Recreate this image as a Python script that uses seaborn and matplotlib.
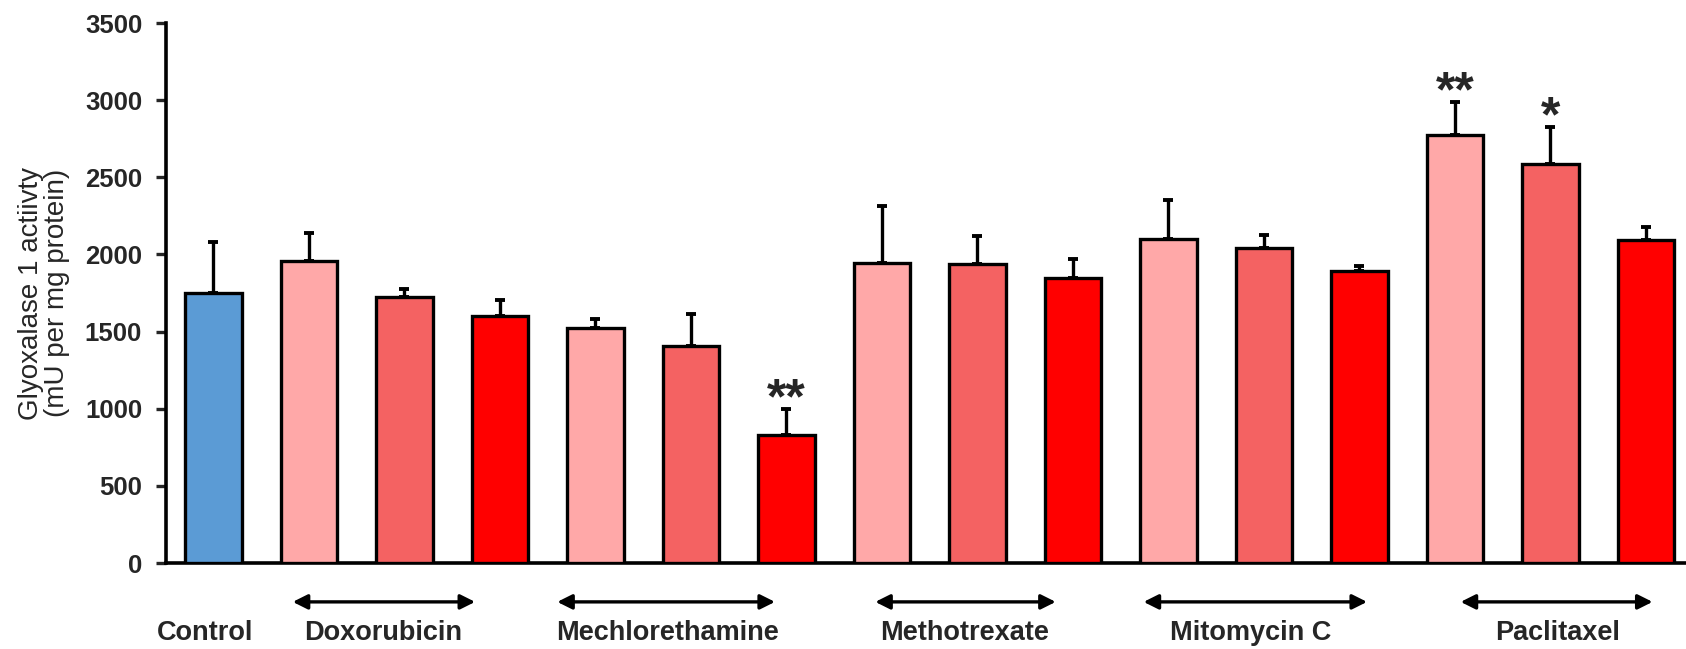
import numpy as np
import pandas as pd
import matplotlib
matplotlib.use("Agg")
import matplotlib.pyplot as plt
import seaborn as sns

# -----------------------------
# Data
# -----------------------------
bars = ["Control",
        "Dox 1", "Dox 2", "Dox 3",
        "Mech 1", "Mech 2", "Mech 3",
        "Meth 1", "Meth 2", "Meth 3",
        "Mito 1", "Mito 2", "Mito 3",
        "Pac 1", "Pac 2", "Pac 3"]
activity = [1750,
            1960, 1726, 1600,
            1521, 1405, 832,
            1943, 1936, 1845,
            2100, 2040, 1893,
            2774, 2586, 2095]
sem = [330,
       177, 50, 105,
       60, 210, 166,
       371, 186, 125,
       255, 86, 30,
       212, 238, 85]
stars = {"Mech 3": "**", "Pac 1": "**", "Pac 2": "*"}

groups = ["Control", "Doxorubicin", "Mechlorethamine", "Methotrexate",
          "Mitomycin C", "Paclitaxel"]
yticks = [0, 500, 1000, 1500, 2000, 2500, 3000, 3500]

# colours: control blue, three concentrations light -> dark red
c_ctrl = "#5B9BD5"
c_low, c_mid, c_high = "#FFA8A8", "#F46262", "#FF0000"
palette = [c_ctrl] + [c_low, c_mid, c_high] * 5

# label / arrow layout (data x coordinates)
label_x = [-0.09, 1.78, 4.75, 7.87, 10.86, 14.07]
arrow_span = [None, (0.83, 2.74), (3.6, 5.88), (6.93, 8.82),
              (9.74, 12.08), (13.06, 15.07)]

df = pd.DataFrame({"bar": bars, "activity": activity, "sem": sem})

# -----------------------------
# Plot
# -----------------------------
sns.set_style("white")
plt.rcParams["font.family"] = ["Liberation Sans", "DejaVu Sans"]

fig = plt.figure(figsize=(16.86, 6.49), dpi=100)
ax = fig.add_axes([0.0983, 0.1325, 0.9017, 0.832])

sns.barplot(data=df, x="bar", y="activity", hue="bar", palette=palette,
            order=bars, legend=False, errorbar=None, width=0.59,
            edgecolor="black", linewidth=2.4, saturation=1, ax=ax, zorder=3)

x = np.arange(len(bars))
ax.errorbar(x, df["activity"], yerr=[np.zeros(len(bars)), df["sem"]],
            fmt="none", ecolor="black", elinewidth=2.4, capsize=3.4,
            capthick=2.8, zorder=2)

for name, s in stars.items():
    i = bars.index(name)
    top = activity[i] + sem[i]
    ax.annotate(s, (i, top), xytext=(0, -3), textcoords="offset points",
                ha="center", va="baseline", fontsize=36, fontweight="bold")

ax.set_xlim(-0.5, 15.42)
ax.set_ylim(0, 3500)
ax.set_yticks(yticks)
ax.set_yticklabels([str(t) for t in yticks], fontsize=18.5, fontweight="bold")
ax.tick_params(axis="y", direction="out", length=7, width=2.4, pad=10,
               left=True)
ax.tick_params(axis="x", bottom=False, labelbottom=False)
ax.set_xlabel("")
ax.set_ylabel("Glyoxalase 1 actiivty\n(mU per mg protein)", fontsize=20,
              linespacing=1.0)
ax.yaxis.set_label_coords(-0.063, 0.5)

sns.despine(ax=ax)
for side in ["left", "bottom"]:
    ax.spines[side].set_linewidth(2.6)
    ax.spines[side].set_color("black")

# group labels and arrows under the axis
trans = ax.get_xaxis_transform()
for name, lx, span in zip(groups, label_x, arrow_span):
    ax.text(lx, -0.13, name, transform=trans, ha="center", va="center",
            fontsize=19.5, fontweight="bold", clip_on=False)
    if span is not None:
        ax.annotate("", xy=(span[1], -0.072), xytext=(span[0], -0.072),
                    xycoords=trans, textcoords=trans,
                    arrowprops=dict(arrowstyle="<|-|>", color="black",
                                    lw=2.4, mutation_scale=22,
                                    shrinkA=0, shrinkB=0),
                    annotation_clip=False)

fig.savefig("out.png", dpi=100)
plt.close()
